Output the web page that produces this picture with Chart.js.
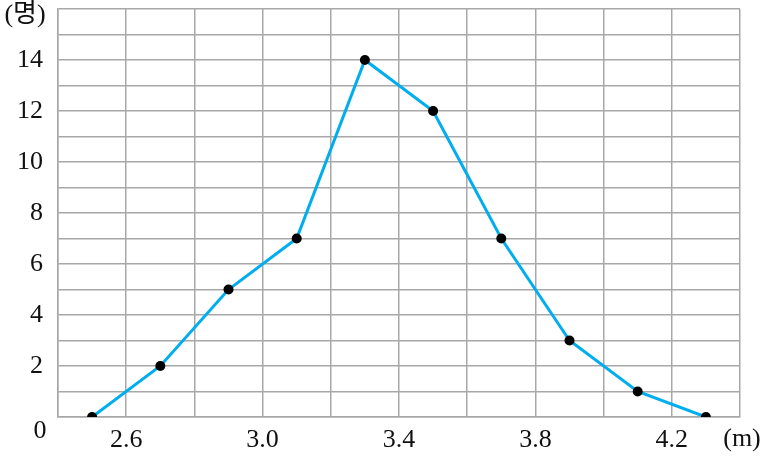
<!DOCTYPE html>
<html>
<head>
<meta charset="utf-8">
<script src="https://cdn.jsdelivr.net/npm/chart.js@4/dist/chart.umd.min.js"></script>
<style>
html,body{margin:0;padding:0;background:#fff;}
#wrap{width:762px;height:458px;position:relative;}
</style>
</head>
<body>
<div id="wrap"><canvas id="c" width="762" height="458"></canvas></div>
<script>
const classMarks = [2.5, 2.7, 2.9, 3.1, 3.3, 3.5, 3.7, 3.9, 4.1, 4.3];
const counts = [0, 2, 5, 7, 14, 12, 7, 3, 1, 0];
const xLabels = [2.6, 3.0, 3.4, 3.8, 4.2];
const yLabels = [2, 4, 6, 8, 10, 12, 14];
const yUnit = '(명)';
const xUnit = '(m)';
const originLabel = '0';

const serif = '"Liberation Serif", "DejaVu Serif", "Noto Sans CJK KR", serif';
const gridColor = '#a8a8a8';

const extraText = {
  id: 'extraText',
  afterDraw(chart) {
    const ctx = chart.ctx;
    const xs = chart.scales.x, ys = chart.scales.y;
    ctx.save();
    ctx.fillStyle = '#111';
    ctx.font = '26px ' + serif;
    ctx.textBaseline = 'middle';
    ctx.textAlign = 'center';
    ctx.fillText(originLabel, xs.left - 18, ys.bottom + 14);
    ctx.fillText(xUnit, xs.right + 2, ys.bottom + 22);
    ctx.font = '26px "Liberation Serif", "Noto Sans CJK KR", serif';
    ctx.fillText(yUnit, 25, ys.top + 6);
    ctx.restore();
  }
};

new Chart(document.getElementById('c'), {
  type: 'scatter',
  data: {
    datasets: [{
      data: classMarks.map((x, i) => ({x: x, y: counts[i]})),
      showLine: true,
      borderColor: '#00AEEF',
      borderWidth: 3,
      pointBackgroundColor: '#000',
      pointBorderColor: '#000',
      pointRadius: 5,
      pointBorderWidth: 0,
      tension: 0
    }]
  },
  options: {
    responsive: false,
    animation: false,
    layout: {padding: {top: 9, right: 22, left: 0, bottom: 0}},
    plugins: {legend: {display: false}, tooltip: {enabled: false}},
    scales: {
      x: {
        type: 'linear', min: 2.4, max: 4.4,
        afterBuildTicks(s) {
          const t = [];
          for (let i = 0; i <= 10; i++) t.push({value: Math.round((2.4 + i * 0.2) * 10) / 10});
          s.ticks = t;
        },
        afterFit(s) { s.height = 41; s.paddingLeft = 0; s.paddingRight = 0; },
        grid: {color: gridColor, lineWidth: 1.5, drawTicks: false},
        border: {color: gridColor, width: 1.5},
        ticks: {
          padding: 8,
          color: '#111',
          font: {family: serif, size: 26},
          maxRotation: 0, autoSkip: false,
          callback: (v) => xLabels.some(l => Math.abs(l - v) < 1e-6) ? v.toFixed(1) : ''
        }
      },
      y: {
        min: 0, max: 16,
        afterBuildTicks(s) {
          const t = [];
          for (let i = 0; i <= 16; i++) t.push({value: i});
          s.ticks = t;
        },
        afterFit(s) { s.width = 58; s.paddingTop = 0; s.paddingBottom = 0; },
        grid: {color: gridColor, lineWidth: 1.5, drawTicks: false},
        border: {color: gridColor, width: 1.5},
        ticks: {
          padding: 15,
          color: '#111',
          font: {family: serif, size: 26},
          autoSkip: false,
          callback: (v) => yLabels.includes(v) ? String(v) : ''
        }
      }
    }
  },
  plugins: [extraText]
});
</script>
</body>
</html>
